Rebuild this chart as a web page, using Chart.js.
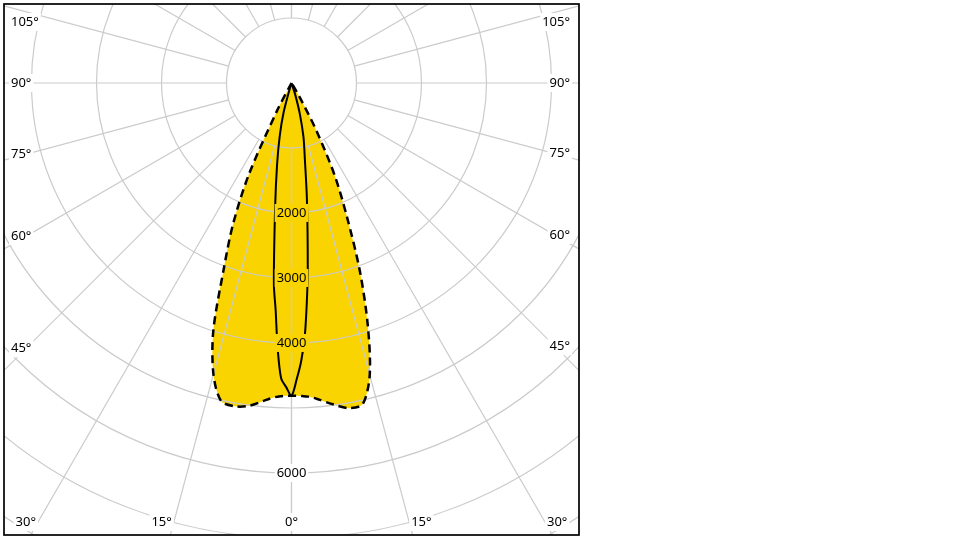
<!DOCTYPE html>
<html>
<head>
<meta charset="utf-8">
<script src="https://cdn.jsdelivr.net/npm/chart.js@4/dist/chart.umd.min.js"></script>
<style>
    html, body { margin: 0; padding: 0; background: #fff; }
</style>
</head>
<body>
<canvas id="myChart" width="960" height="540"></canvas>
<script>
// gamma angles (deg from nadir) and luminous intensity (cd) per C-plane
const angles = [0, 1, 2, 3, 4, 5, 7.5, 10, 12.5, 15, 17.5, 20, 22.5, 25, 27.5, 30, 32.5];
const c180 = [4810, 4812, 4822, 4840, 4870, 4910, 5010, 5050, 5010, 4640, 4000, 3050, 2350, 1550, 480, 0, 0];
const c0 = [4810, 4812, 4820, 4832, 4855, 4890, 4990, 5080, 5060, 4650, 3900, 3070, 2230, 1580, 850, 250, 0];
const c270 = [4810, 4680, 4550, 4080, 3500, 3110, 1930, 1280, 840, 470, 60, 0, 0, 0, 0, 0, 0];
const c90 = [4810, 4560, 4280, 3900, 3380, 2870, 1820, 1180, 850, 500, 200, 0, 0, 0, 0, 0, 0];

const rings = [1000, 2000, 3000, 4000, 5000, 6000, 7000, 8000];
const ringLabels = [2000, 3000, 4000, 6000];
const spokes = [0, 15, 30, 45, 60, 75, 90, 105, 120, 135, 150, 165, 180];
const sideLabels = [45, 60, 75, 90, 105];
const bottomLabels = [0, 15, 30];

const FILL = '#F9D400';
const GRID = '#cbcbcb';
const FONT = '13px "Noto Sans", "DejaVu Sans", sans-serif';

// one half of a plane, stops at the first zero so the curve ends in the centre
function half(values, sign) {
    const pts = [];
    for (let i = 0; i < angles.length; i++) {
        const t = angles[i] * Math.PI / 180;
        pts.push({x: sign * values[i] * Math.sin(t), y: -values[i] * Math.cos(t)});
        if (values[i] === 0) break;
    }
    return pts;
}

function plane(left, right) {
    return half(left, -1).reverse().concat(half(right, 1).slice(1));
}

function tag(ctx, text, x, y, bg) {
    const w = ctx.measureText(text).width;
    ctx.fillStyle = bg;
    ctx.fillRect(x - w / 2 - 2, y - 9, w + 4, 18);
    ctx.fillStyle = '#000';
    ctx.fillText(text, x, y);
}

const polarGrid = {
    id: 'polarGrid',
    beforeDatasetsDraw(chart) {
        const {ctx, chartArea: a, scales: {x, y}} = chart;
        const cx = x.getPixelForValue(0), cy = y.getPixelForValue(0);
        const px = (v) => x.getPixelForValue(v) - cx;
        ctx.save();
        ctx.beginPath();
        ctx.rect(a.left, a.top, a.width, a.height);
        ctx.clip();
        ctx.strokeStyle = GRID;
        ctx.lineWidth = 1.2;
        rings.forEach((r) => {
            ctx.beginPath();
            ctx.arc(cx, cy, px(r), 0, 2 * Math.PI);
            ctx.stroke();
        });
        const r0 = px(rings[0]), r1 = px(rings[rings.length - 1]) * 1.3;
        spokes.forEach((deg) => {
            [-1, 1].forEach((s) => {
                const t = deg * Math.PI / 180;
                const dx = s * Math.sin(t), dy = Math.cos(t);
                ctx.beginPath();
                ctx.moveTo(cx + dx * r0, cy + dy * r0);
                ctx.lineTo(cx + dx * r1, cy + dy * r1);
                ctx.stroke();
            });
        });
        ctx.restore();
    }
};

const polarLabels = {
    id: 'polarLabels',
    afterDatasetsDraw(chart) {
        const {ctx, chartArea: a, scales: {x, y}} = chart;
        const cx = x.getPixelForValue(0), cy = y.getPixelForValue(0);
        const px = (v) => x.getPixelForValue(v) - cx;

        const shape = new Path2D();
        chart.getDatasetMeta(0).data.forEach((p, i) => i ? shape.lineTo(p.x, p.y) : shape.moveTo(p.x, p.y));
        shape.closePath();

        ctx.save();
        ctx.font = FONT;
        ctx.textAlign = 'center';
        ctx.textBaseline = 'middle';

        ringLabels.forEach((r) => {
            const ly = cy + px(r);
            tag(ctx, String(r), cx, ly, ctx.isPointInPath(shape, cx, ly) ? FILL : '#fff');
        });

        sideLabels.forEach((deg) => {
            const t = deg * Math.PI / 180;
            [-1, 1].forEach((s) => {
                const text = deg + '°';
                const w = ctx.measureText(text).width;
                const lx = s < 0 ? a.left + 7 + w / 2 : a.right - 9 - w / 2;
                let ly = cy + (Math.abs(lx - cx) - 5) * Math.cos(t) / Math.sin(t);
                ly = Math.max(ly, a.top + 18);
                tag(ctx, text, lx, ly, '#fff');
            });
        });

        bottomLabels.forEach((deg) => {
            const t = deg * Math.PI / 180;
            const ly = a.bottom - 13;
            const text = deg + '°';
            const w = ctx.measureText(text).width;
            const off = deg === 0 ? 0 : (ly - cy) * Math.tan(t) + w / 2 + 2;
            (deg === 0 ? [1] : [-1, 1]).forEach((s) => tag(ctx, text, cx + s * off, ly, '#fff'));
        });
        ctx.restore();
    },
    afterDraw(chart) {
        const {ctx, chartArea: a} = chart;
        ctx.save();
        ctx.strokeStyle = '#000';
        ctx.lineWidth = 1.7;
        ctx.strokeRect(a.left, a.top, a.width, a.height);
        ctx.restore();
    }
};

const config = {
    type: 'scatter',
    data: {
        datasets: [
            {
                label: 'C0 - C180',
                data: plane(c180, c0),
                showLine: true,
                borderColor: '#000',
                borderWidth: 2.5,
                borderDash: [8, 5],
                backgroundColor: FILL,
                fill: 'shape',
                tension: 0.3,
                pointRadius: 0
            },
            {
                label: 'C90 - C270',
                data: plane(c270, c90),
                showLine: true,
                borderColor: '#000',
                borderWidth: 2,
                fill: false,
                tension: 0.3,
                pointRadius: 0
            }
        ]
    },
    options: {
        responsive: false,
        animation: false,
        devicePixelRatio: 1,
        layout: {
            padding: {left: 4, top: 4, right: 381, bottom: 5}
        },
        scales: {
            x: {type: 'linear', display: false, min: -4423, max: 4423},
            y: {type: 'linear', display: false, min: -6954, max: 1215}
        },
        plugins: {
            legend: {display: false},
            tooltip: {enabled: false},
            filler: {drawTime: 'beforeDatasetsDraw'}
        }
    },
    plugins: [polarGrid, polarLabels]
};

new Chart(document.getElementById('myChart'), config);
</script>
</body>
</html>
